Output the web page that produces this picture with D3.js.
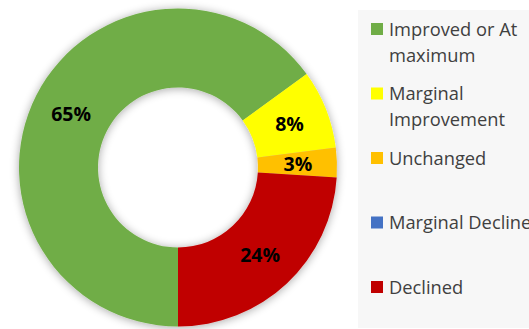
<!DOCTYPE html>
<html><head><meta charset="utf-8">
<script src="https://cdn.jsdelivr.net/npm/d3@7"></script>
<style>body{margin:0;background:#fff}svg{display:block}</style>
</head><body>
<svg id="c" width="529" height="329"></svg>
<script>
const categories = ["Improved or At maximum", "Marginal Improvement", "Unchanged", "Marginal Decline", "Declined"];
const legendLines = [["Improved or At", "maximum"], ["Marginal", "Improvement"], ["Unchanged"], ["Marginal Decline"], ["Declined"]];
const values = [65, 8, 3, 0, 24];
const colors = ["#70AD47", "#FFFF00", "#FFC000", "#4472C4", "#C00000"];

const svg = d3.select("#c");
const defs = svg.append("defs");
const f = defs.append("filter").attr("id","sh").attr("x","-20%").attr("y","-20%").attr("width","140%").attr("height","140%");
f.append("feGaussianBlur").attr("in","SourceAlpha").attr("stdDeviation",5).attr("result","b");
f.append("feOffset").attr("in","b").attr("dx",0).attr("dy",1).attr("result","o");
f.append("feComponentTransfer").attr("in","o").attr("result","o2").append("feFuncA").attr("type","linear").attr("slope",0.35);
const m = f.append("feMerge"); m.append("feMergeNode").attr("in","o2"); m.append("feMergeNode").attr("in","SourceGraphic");

// legend background
svg.append("rect").attr("x",358).attr("y",10).attr("width",171).attr("height",318).attr("fill","#f7f7f7");

const cx = 178, cy = 167.5, R = 159, r = 80;
const pie = d3.pie().sort(null).value(d => d).startAngle(Math.PI).endAngle(3*Math.PI);
const arcs = pie(values);
const arc = d3.arc().innerRadius(r).outerRadius(R);
const labelArc = d3.arc().innerRadius(120).outerRadius(120);
const g = svg.append("g").attr("transform",`translate(${cx},${cy})`);
const gs = g.append("g").attr("filter","url(#sh)");
gs.selectAll("path").data(arcs).join("path").attr("d",arc).attr("fill",(d,i)=>colors[i]);
g.selectAll("text").data(arcs.filter(d=>d.value>0)).join("text")
  .attr("transform",d=>`translate(${labelArc.centroid(d)})`)
  .attr("text-anchor","middle").attr("dominant-baseline","central")
  .attr("font-family","Open Sans, sans-serif").attr("font-weight","bold").attr("font-size",19.5).attr("fill","#000")
  .text(d=>d.value+"%");

const ly = d3.scalePoint().domain(categories).range([29, 287]);
const lg = svg.append("g");
categories.forEach((c,i)=>{
  const y = ly(c);
  lg.append("rect").attr("x",371).attr("y",y-6).attr("width",12).attr("height",12).attr("fill",colors[i]);
  const t = lg.append("text").attr("x",389).attr("y",y+6.5).attr("font-family","Open Sans, sans-serif").attr("font-size",18.3).attr("fill","#404040");
  legendLines[i].forEach((ln,j)=>t.append("tspan").attr("x",389).attr("dy",j?26:0).text(ln));
});
</script>
</body></html>
